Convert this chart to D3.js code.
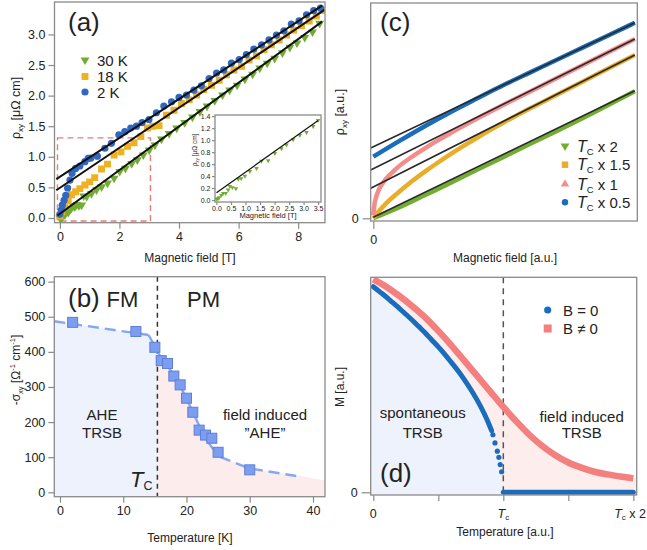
<!DOCTYPE html>
<html><head><meta charset="utf-8">
<script src="https://cdn.jsdelivr.net/npm/d3@7"></script>
<style>body{margin:0;background:#fff} svg{display:block}</style>
</head><body><svg id="c" width="647" height="550"></svg>
<script>
// ---------------- DATA ----------------
// Panel (a): rho_xy [uOhm cm] vs B [T]
const a2K = [[0.0,0.06],[0.05,0.13],[0.08,0.21],[0.14,0.29],[0.2,0.37],[0.26,0.49],[0.34,0.62],[0.41,0.73],[0.53,0.81],[0.67,0.85],[0.84,0.92],[0.95,0.975],[1.04,0.98],[1.26,1.01],[1.51,1.14],[1.73,1.22],[1.98,1.36],[2.18,1.41],[2.38,1.47],[2.57,1.50],[2.76,1.56],[2.99,1.61],[3.24,1.72],[3.49,1.83],[3.75,1.90],[4.0,1.97],[4.25,2.01],[4.5,2.09],[4.75,2.16],[5.01,2.28],[5.26,2.37],[5.5,2.42],[5.76,2.53],[6.02,2.59],[6.26,2.67],[6.51,2.76],[6.77,2.83],[7.02,2.91],[7.27,2.99],[7.52,3.06],[7.77,3.17],[8.03,3.22],[8.28,3.32],[8.52,3.39],[8.75,3.43]];
const a18K = [[0.0,0.03],[0.06,0.10],[0.17,0.21],[0.28,0.29],[0.39,0.38],[0.53,0.43],[0.67,0.48],[0.84,0.54],[1.0,0.59],[1.17,0.66],[1.4,0.80],[1.6,0.88],[1.82,1.03],[2.05,1.08],[2.27,1.17],[2.49,1.23],[2.72,1.33],[2.94,1.47],[3.12,1.50],[3.33,1.51],[3.58,1.68],[3.83,1.76],[4.08,1.87],[4.34,1.93],[4.59,2.01],[4.83,2.10],[5.09,2.17],[5.35,2.25],[5.59,2.34],[5.84,2.42],[6.1,2.48],[6.35,2.58],[6.6,2.65],[6.85,2.75],[7.1,2.83],[7.36,2.91],[7.61,2.99],[7.85,3.07],[8.11,3.14],[8.37,3.22],[8.61,3.30],[8.78,3.39]];
const a30K = [[0.0,0.0],[0.03,0.02],[0.06,0.0],[0.1,0.05],[0.17,0.05],[0.22,0.1],[0.28,0.09],[0.33,0.13],[0.39,0.16],[0.45,0.2],[0.5,0.18],[0.57,0.22],[0.64,0.2],[0.73,0.21],[0.8,0.36],[0.9,0.35],[1.06,0.40],[1.23,0.46],[1.4,0.51],[1.6,0.57],[1.82,0.65],[2.01,0.76],[2.2,0.81],[2.41,0.89],[2.6,0.95],[2.8,1.03],[3.0,1.11],[3.19,1.19],[3.41,1.29],[3.67,1.38],[3.92,1.47],[4.19,1.56],[4.45,1.65],[4.7,1.74],[4.94,1.83],[5.2,1.92],[5.46,2.01],[5.7,2.09],[5.95,2.17],[6.21,2.27],[6.47,2.35],[6.71,2.45],[6.96,2.53],[7.21,2.61],[7.47,2.70],[7.72,2.79],[7.96,2.86],[8.22,2.95],[8.48,3.04],[8.72,3.18]];
const aFit2K = [[-0.12,0.634],[8.8,3.47]];
const aFit18K = [[-0.12,0.454],[8.88,3.40]];
const aFit30K = [[-0.08,0.041],[8.8,3.21]];
const aZoomBox = [[-0.08,-0.05],[3.04,1.31]];
const aXTicks = [0,2,4,6,8];
const aYTicks = [0.0,0.5,1.0,1.5,2.0,2.5,3.0];
const aLegend = ["30 K","18 K","2 K"];
// inset
const inset30K = [[0,0.02],[0.05,0.02],[0.09,0.04],[0.17,0.08],[0.23,0.11],[0.32,0.11],[0.4,0.17],[0.46,0.23],[0.55,0.21],[0.67,0.19],[0.75,0.35],[0.85,0.36],[0.98,0.4],[1.15,0.48],[1.38,0.53],[1.55,0.65],[1.78,0.66],[2.01,0.78],[2.24,0.86],[2.41,0.92],[2.64,1.01],[2.87,1.08],[3.1,1.13],[3.33,1.23],[3.5,1.33]];
const insetFit = [[0,0.12],[3.5,1.33]];
const insetXTicks = [0,0.5,1,1.5,2,2.5,3,3.5];
const insetYTicks = [0,0.2,0.4,0.6,0.8,1.0,1.2,1.4];

// Panel (b): -sigma_xy vs T [K]
const bT = [2,12,15,16,17,18,19,20,21,22,23,24,25,30];
const bSigma = [484,458,413,375,367,331,306,268,228,177,163,154,114,64];
const bDashLeft = [[-0.9,487],[14,448]];
const bSolid = [[14,448],[15,416],[16,382],[17,360],[18,334],[19,302],[20,268],[21,228],[22,190],[23,155],[24,128],[25.3,101]];
const bDashRight = [[25.3,101],[30,68],[38.2,44]];
const bFillFM = [[-0.9,487],[14,448],[15,416],[15.4,402]];
const bFillPM = [[15.4,368],[16,362],[17,350],[18.4,320],[20.5,254],[22.1,188],[23.4,141],[25.3,101],[30,68],[35,54],[38.2,46],[42,33]];
const bTc = 15.4;
const bXTicks = [0,10,20,30,40];
const bYTicks = [0,100,200,300,400,500,600];

// Panel (c): rho_xy [a.u.] vs B [a.u.]
const cBlue = [[0,0.616],[0.1,0.774],[0.2,0.926],[0.3,1.069],[0.4,1.203],[0.5,1.335],[0.6,1.459],[0.7,1.583],[0.8,1.707],[0.9,1.831],[1.0,1.955]];
const cPink = [[0,0.03],[0.005,0.15],[0.01,0.206],[0.02,0.279],[0.04,0.365],[0.06,0.427],[0.08,0.478],[0.1,0.524],[0.15,0.62],[0.2,0.705],[0.25,0.784],[0.3,0.859],[0.35,0.932],[0.4,1.002],[0.5,1.138],[0.6,1.269],[0.7,1.40],[0.8,1.531],[0.9,1.662],[1.0,1.793]];
const cOrange = [[0,0.0],[0.02,0.067],[0.05,0.152],[0.1,0.268],[0.15,0.375],[0.2,0.472],[0.25,0.563],[0.3,0.65],[0.35,0.732],[0.4,0.811],[0.45,0.887],[0.5,0.96],[0.6,1.1],[0.7,1.233],[0.8,1.366],[0.9,1.5],[1.0,1.633]];
const cGreen = [[0,0.0],[0.1,0.11],[0.2,0.235],[0.3,0.36],[0.4,0.49],[0.5,0.615],[0.6,0.745],[0.7,0.87],[0.8,1.0],[0.9,1.135],[1.0,1.27]];
const cFitBlue = [[-0.01,0.703],[1.0,1.956]];
const cFitPink = [[-0.01,0.483],[1.0,1.793]];
const cFitOrange = [[-0.01,0.30],[1.0,1.633]];
const cFitGreen = [[0,0.01],[1.0,1.276]];
const cLegend = [" x 2"," x 1.5"," x 1"," x 0.5"];

// Panel (d): M vs T/Tc
const dB0 = [[0,1.0],[0.05,0.975],[0.1,0.95],[0.15,0.922],[0.2,0.895],[0.25,0.866],[0.3,0.837],[0.35,0.806],[0.4,0.775],[0.45,0.741],[0.5,0.707],[0.55,0.671],[0.6,0.632],[0.65,0.592],[0.7,0.548],[0.75,0.5],[0.8,0.447],[0.85,0.387],[0.88,0.346],[0.91,0.3]];
const dB0Sparse = [[0.92,0.28],[0.936,0.24],[0.954,0.2],[0.966,0.17],[0.976,0.135],[0.987,0.1]];
const dB0Zero = [[1.0,0],[2.0,0]];
const dBn = [[0,1.036],[0.1,1.0],[0.2,0.955],[0.3,0.905],[0.4,0.85],[0.5,0.785],[0.6,0.715],[0.7,0.64],[0.8,0.565],[0.9,0.49],[1.0,0.415],[1.1,0.345],[1.2,0.28],[1.3,0.225],[1.4,0.18],[1.5,0.145],[1.6,0.12],[1.7,0.1],[1.8,0.087],[1.9,0.077],[2.0,0.068]];
const dXTicks = [0,0.5,1,1.5,2];
const dXLabels = ["0","","T_c","","T_c x 2"];
const dLegend = ["B = 0","B \u2260 0"];

// ---------------- DRAW ----------------
const FONT = '"Liberation Sans", Arial, Helvetica, sans-serif';
const AX = "#8a8a8a";
const C_GREEN = "#72ad32", C_ORANGE = "#efb022", C_BLUE = "#2f67c2", C_BLUE2 = "#1a6dbd";
const svg = d3.select("#c");
svg.append("defs");

function clip(id, x0,y0,x1,y1){
  svg.select("defs").append("clipPath").attr("id",id).append("rect")
    .attr("x",x0).attr("y",y0).attr("width",x1-x0).attr("height",y1-y0);
}
function frame(x0,y0,x1,y1){
  svg.append("rect").attr("x",x0).attr("y",y0).attr("width",x1-x0).attr("height",y1-y0)
    .attr("fill","none").attr("stroke",AX).attr("stroke-width",1.3);
}
function axis(gen, tx, ty, fs){
  const g = svg.append("g").attr("transform",`translate(${tx},${ty})`).call(gen);
  g.select(".domain").remove();
  g.selectAll(".tick line").attr("stroke",AX).attr("stroke-width",1.2);
  g.selectAll(".tick text").attr("font-family",FONT).attr("font-size",fs||12).attr("fill","#222");
  return g;
}
function txt(x,y,s,fs,anchor,extra){
  const t = svg.append("text").attr("x",x).attr("y",y).attr("font-family",FONT)
    .attr("font-size",fs).attr("fill","#222").attr("text-anchor",anchor||"start").text(s);
  if(extra) extra(t);
  return t;
}

// ===== Panel (a) =====
const xA = d3.scaleLinear([-0.18,8.9],[54.5,325]);
const yA = d3.scaleLinear([-0.077,3.53],[222.7,2]);
clip("clipA",54.5,2,325,222.7);
const gA = svg.append("g").attr("clip-path","url(#clipA)");
gA.append("rect").attr("x",xA(aZoomBox[0][0])).attr("y",yA(aZoomBox[1][1]))
  .attr("width",xA(aZoomBox[1][0])-xA(aZoomBox[0][0])).attr("height",yA(aZoomBox[0][1])-yA(aZoomBox[1][1]))
  .attr("fill","none").attr("stroke","#f07878").attr("stroke-width",1.4).attr("stroke-dasharray","6,4");
const triDown = d3.symbol(d3.symbolTriangle, 34)();
const sq = d3.symbol(d3.symbolSquare, 48)();
gA.selectAll(".g30").data(a30K).join("path").attr("d",triDown).attr("fill",C_GREEN)
  .attr("transform",d=>`translate(${xA(d[0])},${yA(d[1])}) rotate(180)`);
gA.selectAll(".g18").data(a18K).join("path").attr("d",sq).attr("fill",C_ORANGE)
  .attr("transform",d=>`translate(${xA(d[0])},${yA(d[1])})`);
gA.selectAll(".g2").data(a2K).join("circle").attr("r",3.6).attr("fill",C_BLUE)
  .attr("cx",d=>xA(d[0])).attr("cy",d=>yA(d[1]));
const lineA = d3.line().x(d=>xA(d[0])).y(d=>yA(d[1]));
[aFit2K,aFit18K,aFit30K].forEach(f=>gA.append("path").attr("d",lineA(f)).attr("stroke","#111").attr("stroke-width",2).attr("fill","none"));
// legend
[[triDown,C_GREEN,true],[sq,C_ORANGE,false],[null,C_BLUE,false]].forEach((m,i)=>{
  const y = [60,76.5,92][i];
  if(m[0]) svg.append("path").attr("d",m[0]).attr("fill",m[1]).attr("transform",`translate(85,${y})`+(m[2]?" rotate(180)":""));
  else svg.append("circle").attr("cx",85).attr("cy",y).attr("r",3.6).attr("fill",m[1]);
  txt(97,[65.5,82,98][i],aLegend[i],15);
});
txt(68,31,"(a)",26);
// inset
const xI = d3.scaleLinear([-0.05,3.6],[215,321]);
const yI = d3.scaleLinear([-0.033,1.42],[202,115]);
svg.append("rect").attr("x",215).attr("y",115).attr("width",106).attr("height",87).attr("fill","#fff");
clip("clipI",215,115,321,202);
const gI = svg.append("g").attr("clip-path","url(#clipI)");
const triSmall = d3.symbol(d3.symbolTriangle, 9)();
gI.selectAll("path.p").data(inset30K).join("path").attr("d",triSmall).attr("fill",C_GREEN)
  .attr("transform",d=>`translate(${xI(d[0])},${yI(d[1])}) rotate(180)`);
gI.append("path").attr("d",d3.line().x(d=>xI(d[0])).y(d=>yI(d[1]))(insetFit)).attr("stroke","#111").attr("stroke-width",1.2).attr("fill","none");
frame(215,115,321,202);
axis(d3.axisLeft(yI).tickValues(insetYTicks).tickFormat(d3.format(".1f")).tickSize(3).tickPadding(1.5),215,0,7);
axis(d3.axisBottom(xI).tickValues(insetXTicks).tickFormat(d3.format(".1f")).tickSize(3).tickPadding(1),0,202,7);
txt(268,218,"Magnetic field [T]",7.5,"middle");
txt(0,0,"",6.5,"middle",t=>{
  t.attr("transform","translate(197,150) rotate(-90)");
  t.append("tspan").text("\u03c1");
  t.append("tspan").attr("font-size",4.5).attr("dy",1.5).text("xy");
  t.append("tspan").attr("dy",-1.5).text(" [\u03bc\u03a9 cm]");
});
frame(54.5,2,325,222.7);
axis(d3.axisLeft(yA).tickValues(aYTicks).tickFormat(d3.format(".1f")).tickSize(6).tickPadding(3),54.5,0,12.5);
axis(d3.axisBottom(xA).tickValues(aXTicks).tickSize(6).tickPadding(3),0,222.7,12.5);
txt(190,262,"Magnetic field [T]",12,"middle");
txt(0,0,"",12.5,"middle",t=>{
  t.attr("transform","translate(20,108) rotate(-90)");
  t.append("tspan").text("\u03c1");
  t.append("tspan").attr("font-size",8).attr("dy",3).text("xy");
  t.append("tspan").attr("dy",-3).text(" [\u03bc\u03a9 cm]");
});

// ===== Panel (c) =====
const xC = d3.scaleLinear([-0.01,1.0095],[370.7,637.3]);
const yC = d3.scaleLinear([-0.027,2.153],[221,3]);
clip("clipC",370.7,3,637.3,221);
const gC = svg.append("g").attr("clip-path","url(#clipC)");
const lineC = d3.line().x(d=>xC(d[0])).y(d=>yC(d[1])).curve(d3.curveMonotoneX);
[[cGreen,C_GREEN],[cOrange,"#e9ad2c"],[cPink,"#f58c8c"],[cBlue,C_BLUE2]].forEach(s=>{
  gC.append("path").attr("d",lineC(s[0])).attr("stroke",s[1]).attr("stroke-width",4.5).attr("fill","none");
});
[cFitBlue,cFitPink,cFitOrange,cFitGreen].forEach(f=>gC.append("path").attr("d",lineC(f)).attr("stroke","#2a2a2a").attr("stroke-width",1.6).attr("fill","none"));
frame(370.7,3,637.3,221);
axis(d3.axisLeft(yC).tickValues([0]).tickFormat(d3.format("d")).tickSize(8).tickPadding(4),370.7,0,12.5);
axis(d3.axisBottom(xC).tickValues([0]).tickFormat(d3.format("d")).tickSize(8).tickPadding(6),0,221,12.5);
txt(505,262,"Magnetic field [a.u.]",12,"middle");
txt(0,0,"",12.5,"middle",t=>{
  t.attr("transform","translate(344,112) rotate(-90)");
  t.append("tspan").text("\u03c1");
  t.append("tspan").attr("font-size",8).attr("dy",3).text("xy");
  t.append("tspan").attr("dy",-3).text(" [a.u.]");
});
txt(380,31,"(c)",26);
const triUp = d3.symbol(d3.symbolTriangle, 30)();
const cMarks = [[triDown,C_GREEN,true],[d3.symbol(d3.symbolSquare,42)(),"#e9ad2c",false],[triUp,"#f58c8c",false],[null,C_BLUE2,false]];
cMarks.forEach((m,i)=>{
  const y = [146,164.7,184,202.3][i];
  if(m[0]) svg.append("path").attr("d",m[0]).attr("fill",m[1]).attr("transform",`translate(565,${y})`+(m[2]?" rotate(180)":""));
  else svg.append("circle").attr("cx",565).attr("cy",y).attr("r",3.2).attr("fill",m[1]);
  txt(577,y+5.5,"",15,"start",t=>{
    t.append("tspan").attr("font-style","italic").attr("font-size",16).text("T");
    t.append("tspan").attr("font-size",9.5).attr("dy",3).text("C");
    t.append("tspan").attr("dy",-3).text(cLegend[i]);
  });
});

// ===== Panel (b) =====
const xB = d3.scaleLinear([-0.9,41.9],[54.3,325]);
const yB = d3.scaleLinear([-12.5,614],[496.7,276.7]);
clip("clipB",54.3,276.7,325,496.7);
const gB = svg.append("g").attr("clip-path","url(#clipB)");
const areaB = d3.area().x(d=>xB(d[0])).y0(yB(-12.5)).y1(d=>yB(d[1]));
gB.append("path").attr("d",areaB(bFillFM)).attr("fill","#eef2fc");
gB.append("path").attr("d",areaB(bFillPM)).attr("fill","#fcecec");
gB.append("line").attr("x1",xB(bTc)).attr("x2",xB(bTc)).attr("y1",276.7).attr("y2",496.7)
  .attr("stroke","#333").attr("stroke-width",1.5).attr("stroke-dasharray","5,4");
const lineB = d3.line().x(d=>xB(d[0])).y(d=>yB(d[1]));
const BL = "#86a6f2";
gB.append("path").attr("d",lineB(bDashLeft)).attr("stroke",BL).attr("stroke-width",2.4).attr("fill","none").attr("stroke-dasharray","11,6");
gB.append("path").attr("d",lineB(bSolid)).attr("stroke",BL).attr("stroke-width",2.4).attr("fill","none");
gB.append("path").attr("d",lineB(bDashRight)).attr("stroke",BL).attr("stroke-width",2.4).attr("fill","none").attr("stroke-dasharray","11,6");
gB.selectAll("rect.sq").data(bT).join("rect").attr("class","sq")
  .attr("x",(d)=>xB(d)-5).attr("y",(d,i)=>yB(bSigma[i])-5).attr("width",10).attr("height",10)
  .attr("fill","#7d9df0").attr("stroke","#5c7fd6").attr("stroke-width",1);
frame(54.3,276.7,325,496.7);
axis(d3.axisLeft(yB).tickValues(bYTicks).tickSize(6).tickPadding(3),54.3,0,12.5);
axis(d3.axisBottom(xB).tickValues(bXTicks).tickSize(6).tickPadding(3),0,496.7,12.5);
txt(190,542,"Temperature [K]",12,"middle");
txt(0,0,"",12,"middle",t=>{
  t.attr("transform","translate(20,370) rotate(-90)");
  t.append("tspan").text("-\u03c3");
  t.append("tspan").attr("font-size",7.5).attr("dy",3).text("xy");
  t.append("tspan").attr("dy",-3).text(" [\u03a9");
  t.append("tspan").attr("font-size",7.5).attr("dy",-5).text("-1");
  t.append("tspan").attr("dy",5).text(" cm");
  t.append("tspan").attr("font-size",7.5).attr("dy",-5).text("-1");
  t.append("tspan").attr("dy",5).text("]");
});
txt(68,307,"(b)",26);
txt(122.5,307,"FM",22,"middle");
txt(203.5,307,"PM",22,"middle");
txt(102,420,"AHE",15,"middle");
txt(102,437.5,"TRSB",15,"middle");
txt(265,420,"field induced",15,"middle");
txt(265,437.5,"\u201dAHE\u201d",15,"middle");
txt(130,487,"",22,"start",t=>{
  t.append("tspan").attr("font-style","italic").text("T");
  t.append("tspan").attr("font-size",12.5).attr("dy",3).text("C");
});

// ===== Panel (d) =====
const xD = d3.scaleLinear([-0.02,2.026],[370.7,636.7]);
const yD = d3.scaleLinear([-0.0131,1.0457],[495,277.3]);
clip("clipD",370.7,277.3,636.7,495);
const gD = svg.append("g").attr("clip-path","url(#clipD)");
const areaD = d3.area().x(d=>xD(d[0])).y0(495).y1(d=>yD(d[1]));
gD.append("path").attr("d",areaD([[-0.02,1.04]].concat(dBn,[[2.03,0.067]]))).attr("fill","#fdeded");
gD.append("path").attr("d",areaD([[-0.02,1.01]].concat(dB0,dB0Sparse,[[1.0,0.0]]))).attr("fill","#eef2fc");
gD.append("line").attr("x1",xD(1)).attr("x2",xD(1)).attr("y1",277.3).attr("y2",495)
  .attr("stroke","#555").attr("stroke-width",1.5).attr("stroke-dasharray","6,5");
const lineD = d3.line().x(d=>xD(d[0])).y(d=>yD(d[1])).curve(d3.curveMonotoneX);
gD.append("path").attr("d",lineD(dBn)).attr("stroke","#f47f7f").attr("stroke-width",6.5).attr("fill","none");
gD.append("path").attr("d",lineD(dB0)).attr("stroke",C_BLUE2).attr("stroke-width",5).attr("fill","none").attr("stroke-linecap","round");
gD.selectAll("circle.sp").data(dB0Sparse).join("circle").attr("class","sp").attr("r",2.6)
  .attr("cx",d=>xD(d[0])).attr("cy",d=>yD(d[1])).attr("fill",C_BLUE2);
gD.append("path").attr("d",lineD(dB0Zero)).attr("stroke",C_BLUE2).attr("stroke-width",5).attr("fill","none").attr("stroke-linecap","round");
frame(370.7,277.3,636.7,495);
axis(d3.axisLeft(yD).tickValues([0]).tickFormat(d3.format("d")).tickSize(9).tickPadding(4),370.7,0,12.5);
axis(d3.axisBottom(xD).tickValues(dXTicks).tickFormat("").tickSize(6),0,495,12.5);
dXTicks.forEach((v,i)=>{
  const s = dXLabels[i]; if(!s) return;
  const last = i === dXTicks.length-1;
  txt(last ? 646 : xD(v),518,"",12.5,last ? "end" : "middle",t=>{
    if(s.startsWith("T_c")){
      t.append("tspan").attr("font-style","italic").text("T");
      t.append("tspan").attr("font-size",8).attr("dy",2).text("c");
      const rest = s.slice(3);
      if(rest) t.append("tspan").attr("dy",-2).text(rest);
    } else t.text(s);
  });
});
txt(505,536,"Temperature [a.u.]",12,"middle");
txt(0,0,"M [a.u.]",12,"middle",t=>t.attr("transform","translate(344,387) rotate(-90)"));
txt(380,482,"(d)",26);
svg.append("circle").attr("cx",547.7).attr("cy",310).attr("r",3.6).attr("fill",C_BLUE2);
svg.append("rect").attr("x",543.7).attr("y",324.5).attr("width",8).attr("height",8).attr("fill","#f47f7f");
txt(563,315.5,dLegend[0],15);
txt(563,333.5,dLegend[1],15);
txt(422.7,418,"spontaneous",15,"middle");
txt(422.7,437.5,"TRSB",15,"middle");
txt(581.7,422,"field induced",15,"middle");
txt(581.7,437.5,"TRSB",15,"middle");
</script></body></html>
